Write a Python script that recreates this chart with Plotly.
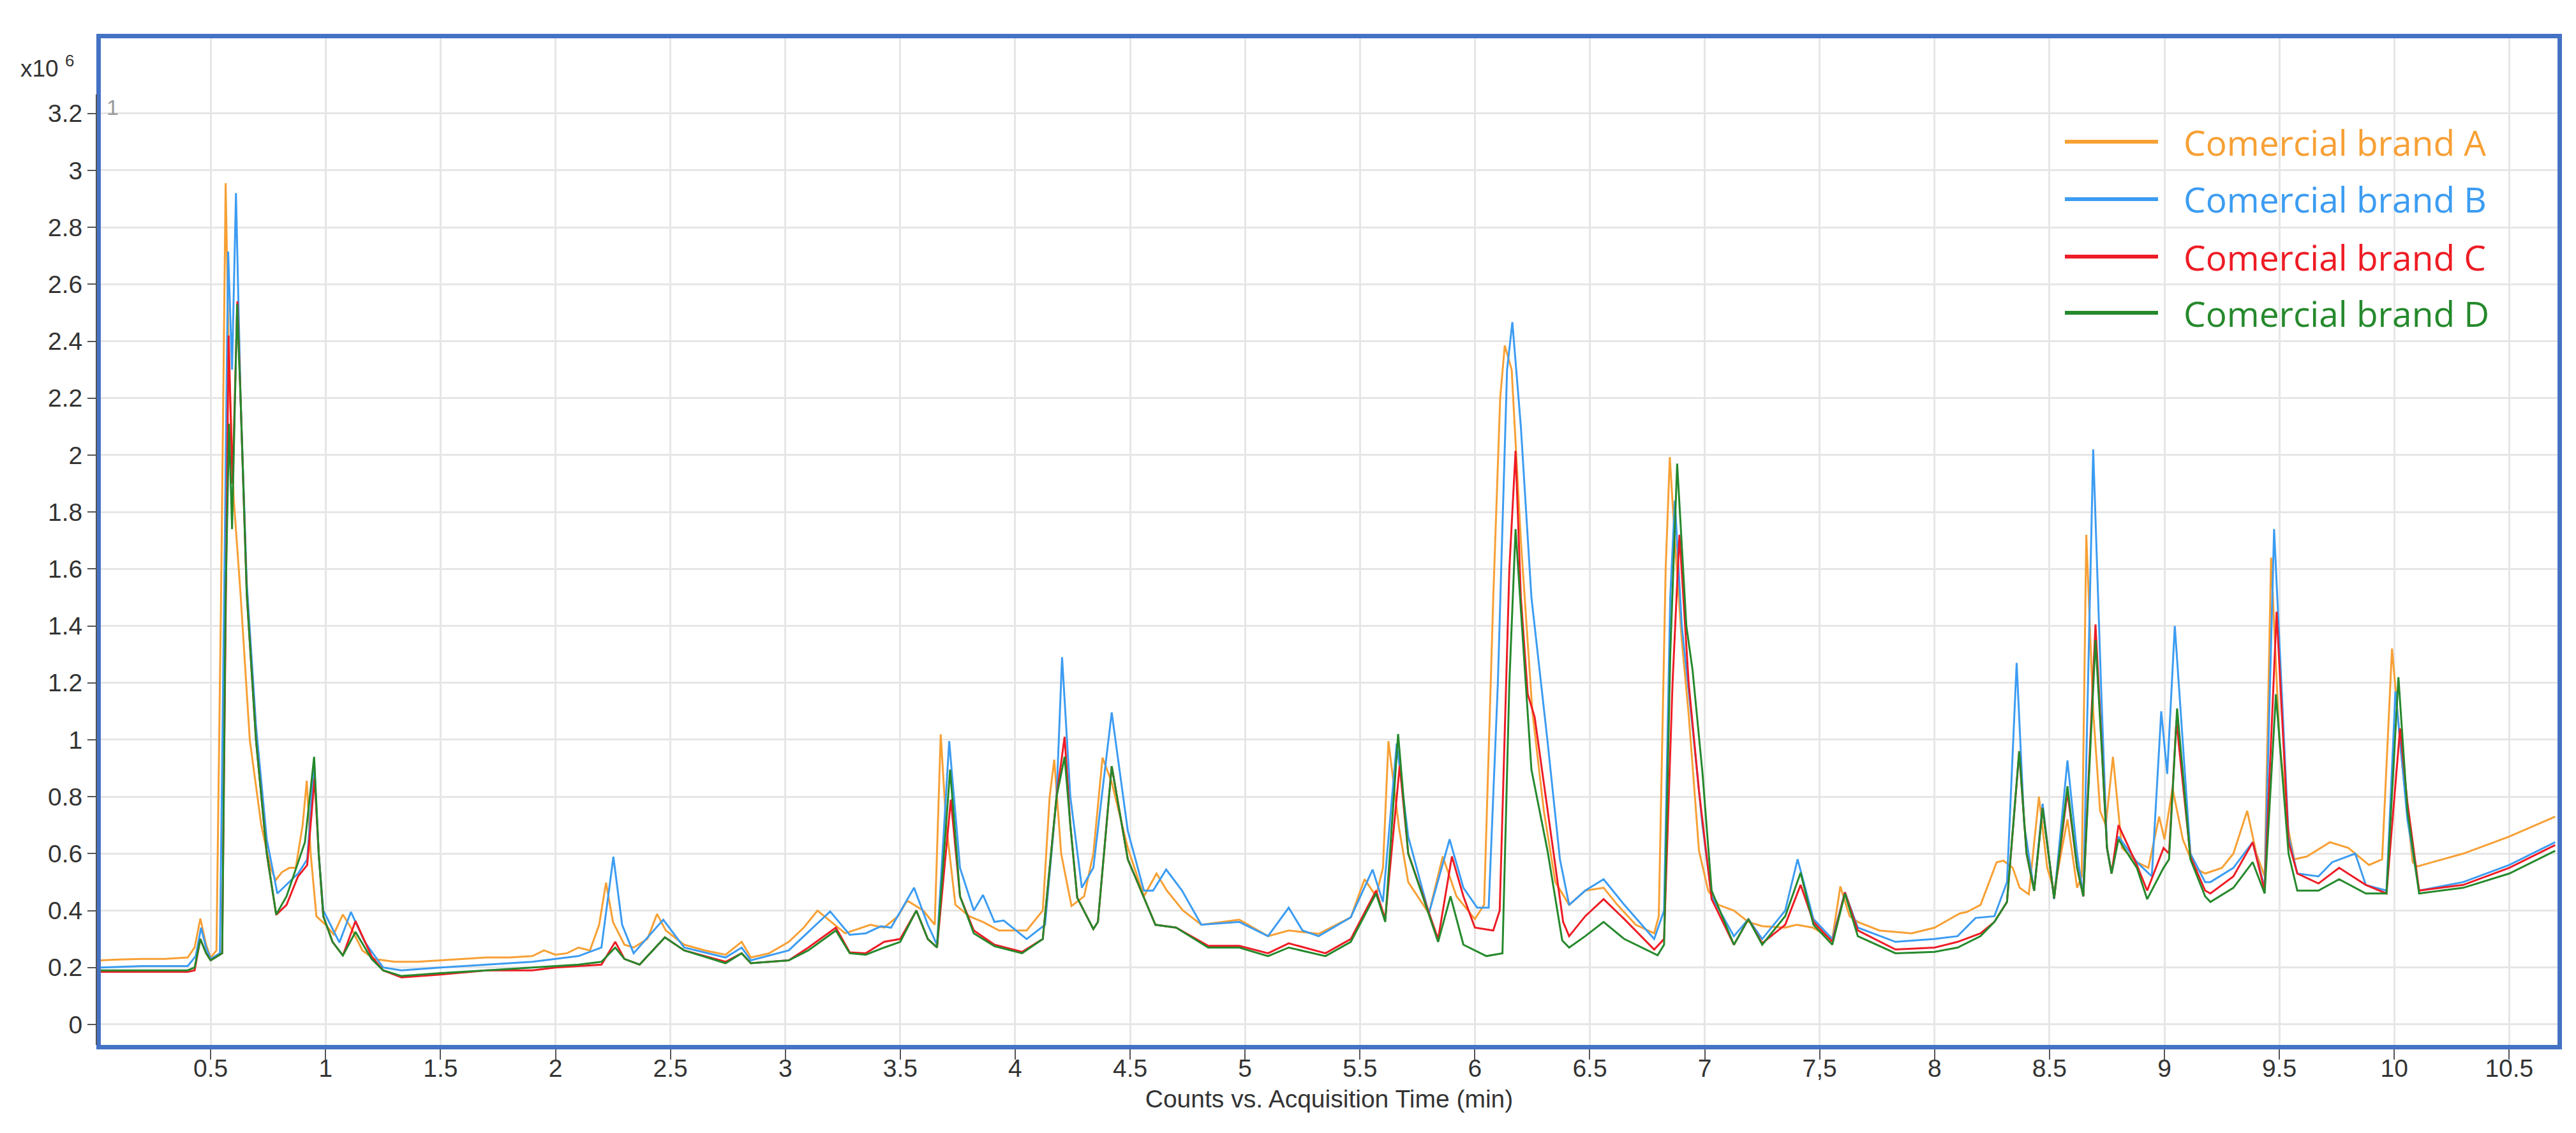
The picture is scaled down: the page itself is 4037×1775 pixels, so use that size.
import plotly.graph_objects as go

# ---------------- data (counts in units of 10^6) ----------------
time_A = [0.02, 0.10, 0.20, 0.30, 0.40, 0.43, 0.455, 0.48, 0.50, 0.525, 0.545, 0.565, 0.58, 0.60, 0.63, 0.67, 0.72, 0.76, 0.783, 0.81, 0.842, 0.87, 0.90, 0.918, 0.935, 0.96, 1.00, 1.035, 1.075, 1.11, 1.16, 1.21, 1.3, 1.4, 1.5, 1.6, 1.7, 1.8, 1.9, 1.95, 2.0, 2.05, 2.1, 2.15, 2.19, 2.22, 2.25, 2.3, 2.34, 2.4, 2.442, 2.48, 2.56, 2.65, 2.74, 2.81, 2.85, 2.93, 3.015, 3.08, 3.14, 3.2, 3.26, 3.37, 3.43, 3.49, 3.53, 3.6, 3.65, 3.676, 3.70, 3.74, 3.8, 3.86, 3.93, 4.05, 4.12, 4.15, 4.17, 4.2, 4.245, 4.3, 4.34, 4.38, 4.42, 4.49, 4.56, 4.615, 4.66, 4.73, 4.81, 4.975, 5.1, 5.19, 5.32, 5.46, 5.52, 5.57, 5.6, 5.624, 5.67, 5.71, 5.8, 5.86, 5.92, 6.0, 6.04, 6.08, 6.11, 6.13, 6.16, 6.2, 6.25, 6.3, 6.35, 6.41, 6.48, 6.56, 6.62, 6.7, 6.78, 6.8, 6.83, 6.848, 6.87, 6.9, 6.93, 6.975, 7.015, 7.06, 7.127, 7.19, 7.25, 7.35, 7.4, 7.47, 7.555, 7.59, 7.63, 7.666, 7.76, 7.9, 8.0, 8.11, 8.14, 8.2, 8.27, 8.3, 8.34, 8.37, 8.41, 8.454, 8.49, 8.52, 8.578, 8.62, 8.64, 8.66, 8.69, 8.72, 8.745, 8.776, 8.815, 8.88, 8.93, 8.977, 9.0, 9.035, 9.08, 9.13, 9.177, 9.25, 9.3, 9.36, 9.40, 9.436, 9.464, 9.5, 9.54, 9.565, 9.62, 9.72, 9.8, 9.89, 9.947, 9.99, 10.03, 10.08, 10.1, 10.3, 10.5, 10.7]
counts_A = [0.225, 0.228, 0.23, 0.23, 0.235, 0.27, 0.372, 0.28, 0.235, 0.26, 1.5, 2.955, 2.3, 1.85, 1.51, 1.0, 0.7, 0.55, 0.507, 0.535, 0.55, 0.55, 0.7, 0.856, 0.6, 0.38, 0.35, 0.316, 0.386, 0.34, 0.26, 0.23, 0.22, 0.22, 0.225, 0.23, 0.235, 0.235, 0.24, 0.26, 0.245, 0.25, 0.27, 0.26, 0.35, 0.498, 0.36, 0.28, 0.27, 0.3, 0.388, 0.33, 0.28, 0.26, 0.245, 0.29, 0.235, 0.25, 0.29, 0.34, 0.40, 0.36, 0.32, 0.35, 0.34, 0.38, 0.435, 0.40, 0.35, 1.019, 0.7, 0.42, 0.38, 0.36, 0.33, 0.33, 0.4, 0.8, 0.93, 0.6, 0.416, 0.45, 0.6, 0.937, 0.85, 0.62, 0.45, 0.53, 0.47, 0.4, 0.35, 0.368, 0.31, 0.33, 0.318, 0.376, 0.51, 0.45, 0.55, 0.995, 0.69, 0.5, 0.39, 0.59, 0.45, 0.37, 0.42, 1.5, 2.2, 2.385, 2.3, 1.7, 1.1, 0.75, 0.5, 0.42, 0.47, 0.48, 0.42, 0.35, 0.32, 0.38, 1.6, 1.993, 1.7, 1.35, 1.09, 0.61, 0.47, 0.42, 0.40, 0.36, 0.345, 0.34, 0.35, 0.34, 0.30, 0.485, 0.38, 0.36, 0.33, 0.32, 0.34, 0.39, 0.395, 0.42, 0.57, 0.575, 0.55, 0.48, 0.457, 0.80, 0.55, 0.47, 0.72, 0.48, 0.52, 1.72, 1.1, 0.75, 0.70, 0.94, 0.62, 0.57, 0.55, 0.73, 0.65, 0.83, 0.65, 0.55, 0.53, 0.55, 0.6, 0.75, 0.6, 0.52, 1.64, 1.0, 0.68, 0.58, 0.59, 0.64, 0.62, 0.56, 0.58, 1.32, 0.95, 0.57, 0.555, 0.6, 0.66, 0.73]

time_B = [0.02, 0.2, 0.4, 0.435, 0.458, 0.48, 0.50, 0.54, 0.56, 0.576, 0.593, 0.61, 0.63, 0.657, 0.697, 0.744, 0.79, 0.84, 0.88, 0.92, 0.95, 0.97, 0.99, 1.06, 1.11, 1.17, 1.25, 1.33, 1.5, 1.7, 1.9, 2.0, 2.1, 2.2, 2.252, 2.29, 2.34, 2.469, 2.56, 2.74, 2.81, 2.85, 3.015, 3.195, 3.28, 3.35, 3.416, 3.46, 3.56, 3.62, 3.66, 3.713, 3.76, 3.82, 3.86, 3.91, 3.95, 4.05, 4.13, 4.18, 4.204, 4.24, 4.29, 4.34, 4.42, 4.49, 4.56, 4.6, 4.657, 4.726, 4.81, 4.975, 5.1, 5.19, 5.25, 5.32, 5.46, 5.555, 5.6, 5.66, 5.71, 5.8, 5.89, 5.95, 6.01, 6.06, 6.1, 6.14, 6.163, 6.2, 6.246, 6.316, 6.37, 6.41, 6.48, 6.56, 6.65, 6.78, 6.823, 6.85, 6.87, 6.9, 6.95, 6.99, 7.03, 7.127, 7.19, 7.25, 7.35, 7.404, 7.473, 7.555, 7.61, 7.666, 7.83, 8.0, 8.1, 8.178, 8.26, 8.315, 8.357, 8.39, 8.433, 8.47, 8.52, 8.578, 8.62, 8.647, 8.69, 8.725, 8.75, 8.77, 8.8, 8.88, 8.945, 8.986, 9.012, 9.045, 9.113, 9.177, 9.2, 9.3, 9.384, 9.436, 9.477, 9.54, 9.578, 9.67, 9.73, 9.83, 9.876, 9.966, 10.005, 10.057, 10.108, 10.3, 10.5, 10.7]
counts_B = [0.2, 0.205, 0.205, 0.24, 0.34, 0.27, 0.23, 0.25, 1.6, 2.715, 2.3, 2.92, 2.2, 1.55, 1.05, 0.65, 0.46, 0.5, 0.53, 0.58, 0.92, 0.6, 0.4, 0.288, 0.395, 0.29, 0.2, 0.19, 0.2, 0.21, 0.22, 0.23, 0.24, 0.27, 0.589, 0.35, 0.25, 0.368, 0.27, 0.235, 0.27, 0.225, 0.26, 0.397, 0.315, 0.32, 0.345, 0.34, 0.48, 0.35, 0.28, 0.995, 0.55, 0.40, 0.455, 0.36, 0.365, 0.30, 0.35, 0.8, 1.29, 0.8, 0.48, 0.55, 1.096, 0.68, 0.47, 0.47, 0.544, 0.47, 0.35, 0.36, 0.31, 0.41, 0.33, 0.31, 0.376, 0.544, 0.43, 0.987, 0.66, 0.39, 0.65, 0.48, 0.41, 0.41, 1.2, 2.3, 2.467, 2.1, 1.5, 0.995, 0.58, 0.42, 0.47, 0.51, 0.42, 0.30, 0.40, 1.5, 1.84, 1.4, 1.02, 0.7, 0.45, 0.31, 0.37, 0.30, 0.40, 0.58, 0.37, 0.30, 0.464, 0.34, 0.29, 0.30, 0.31, 0.374, 0.38, 0.5, 1.27, 0.7, 0.47, 0.775, 0.44, 0.927, 0.6, 0.45, 2.02, 1.17, 0.62, 0.53, 0.66, 0.57, 0.52, 1.10, 0.88, 1.40, 0.6, 0.5, 0.5, 0.55, 0.64, 0.48, 1.74, 0.66, 0.53, 0.52, 0.57, 0.6, 0.49, 0.47, 1.17, 0.72, 0.47, 0.5, 0.56, 0.64]

time_C = [0.02, 0.2, 0.4, 0.43, 0.455, 0.48, 0.50, 0.55, 0.565, 0.578, 0.595, 0.616, 0.63, 0.657, 0.697, 0.744, 0.785, 0.83, 0.88, 0.92, 0.952, 0.97, 0.99, 1.03, 1.075, 1.13, 1.2, 1.25, 1.33, 1.5, 1.7, 1.9, 2.0, 2.1, 2.2, 2.26, 2.3, 2.366, 2.476, 2.56, 2.74, 2.81, 2.85, 3.015, 3.1, 3.22, 3.28, 3.35, 3.43, 3.5, 3.57, 3.62, 3.66, 3.72, 3.76, 3.82, 3.91, 4.03, 4.12, 4.18, 4.215, 4.24, 4.27, 4.34, 4.36, 4.42, 4.49, 4.61, 4.7, 4.84, 4.975, 5.1, 5.19, 5.35, 5.46, 5.57, 5.61, 5.673, 5.71, 5.84, 5.9, 5.95, 6.0, 6.08, 6.108, 6.15, 6.177, 6.2, 6.23, 6.26, 6.316, 6.384, 6.41, 6.48, 6.56, 6.65, 6.78, 6.823, 6.86, 6.89, 6.93, 6.975, 7.03, 7.127, 7.19, 7.25, 7.35, 7.417, 7.473, 7.555, 7.61, 7.666, 7.83, 8.0, 8.1, 8.2, 8.26, 8.315, 8.368, 8.40, 8.433, 8.47, 8.52, 8.578, 8.62, 8.647, 8.70, 8.725, 8.75, 8.77, 8.8, 8.88, 8.925, 8.996, 9.02, 9.052, 9.113, 9.177, 9.2, 9.3, 9.384, 9.436, 9.488, 9.54, 9.578, 9.67, 9.76, 9.876, 9.966, 10.025, 10.057, 10.108, 10.3, 10.5, 10.7]
counts_C = [0.185, 0.185, 0.185, 0.19, 0.30, 0.25, 0.225, 0.25, 1.5, 2.42, 1.9, 2.54, 2.2, 1.51, 1.0, 0.6, 0.385, 0.42, 0.52, 0.56, 0.865, 0.6, 0.38, 0.29, 0.242, 0.363, 0.24, 0.19, 0.165, 0.175, 0.19, 0.19, 0.2, 0.205, 0.21, 0.29, 0.23, 0.21, 0.306, 0.26, 0.22, 0.25, 0.215, 0.225, 0.27, 0.34, 0.253, 0.25, 0.29, 0.3, 0.40, 0.3, 0.27, 0.79, 0.45, 0.33, 0.28, 0.255, 0.3, 0.8, 1.01, 0.7, 0.445, 0.335, 0.36, 0.907, 0.58, 0.35, 0.34, 0.276, 0.276, 0.25, 0.285, 0.25, 0.30, 0.47, 0.37, 0.91, 0.6, 0.30, 0.59, 0.45, 0.34, 0.33, 0.4, 1.6, 2.015, 1.5, 1.16, 1.08, 0.75, 0.36, 0.31, 0.38, 0.44, 0.37, 0.263, 0.3, 1.2, 1.72, 1.2, 0.82, 0.44, 0.28, 0.37, 0.285, 0.35, 0.49, 0.36, 0.29, 0.464, 0.33, 0.263, 0.27, 0.29, 0.32, 0.36, 0.43, 0.955, 0.6, 0.47, 0.76, 0.443, 0.817, 0.55, 0.45, 1.405, 1.0, 0.62, 0.53, 0.70, 0.56, 0.47, 0.62, 0.6, 1.065, 0.59, 0.47, 0.46, 0.52, 0.64, 0.47, 1.45, 0.64, 0.53, 0.495, 0.55, 0.49, 0.46, 1.04, 0.78, 0.47, 0.49, 0.55, 0.63]

time_D = [0.02, 0.2, 0.4, 0.43, 0.455, 0.48, 0.50, 0.55, 0.565, 0.58, 0.593, 0.615, 0.63, 0.657, 0.697, 0.744, 0.785, 0.83, 0.91, 0.95, 0.97, 0.99, 1.03, 1.075, 1.13, 1.2, 1.25, 1.33, 1.5, 1.7, 1.9, 2.0, 2.1, 2.2, 2.26, 2.3, 2.366, 2.476, 2.56, 2.74, 2.81, 2.85, 3.015, 3.1, 3.22, 3.28, 3.35, 3.43, 3.5, 3.57, 3.62, 3.66, 3.717, 3.76, 3.82, 3.91, 4.03, 4.12, 4.18, 4.215, 4.24, 4.27, 4.34, 4.36, 4.42, 4.49, 4.61, 4.7, 4.84, 4.975, 5.1, 5.19, 5.35, 5.46, 5.57, 5.61, 5.666, 5.71, 5.84, 5.894, 5.95, 6.05, 6.12, 6.15, 6.177, 6.246, 6.316, 6.38, 6.41, 6.48, 6.56, 6.65, 6.795, 6.823, 6.85, 6.88, 6.92, 6.947, 6.99, 7.03, 7.127, 7.19, 7.25, 7.35, 7.417, 7.473, 7.555, 7.61, 7.666, 7.83, 8.0, 8.1, 8.2, 8.26, 8.315, 8.368, 8.40, 8.433, 8.47, 8.52, 8.578, 8.62, 8.647, 8.70, 8.725, 8.75, 8.77, 8.8, 8.88, 8.925, 8.996, 9.02, 9.055, 9.113, 9.177, 9.2, 9.3, 9.384, 9.436, 9.485, 9.54, 9.578, 9.67, 9.76, 9.876, 9.966, 10.018, 10.057, 10.108, 10.3, 10.5, 10.7]
counts_D = [0.19, 0.19, 0.19, 0.2, 0.30, 0.25, 0.225, 0.25, 1.5, 2.11, 1.74, 2.53, 2.2, 1.51, 1.0, 0.6, 0.386, 0.45, 0.64, 0.94, 0.6, 0.38, 0.29, 0.242, 0.325, 0.23, 0.19, 0.17, 0.18, 0.19, 0.2, 0.205, 0.21, 0.22, 0.27, 0.23, 0.21, 0.306, 0.26, 0.215, 0.25, 0.215, 0.225, 0.26, 0.33, 0.25, 0.245, 0.27, 0.29, 0.40, 0.3, 0.27, 0.895, 0.45, 0.32, 0.275, 0.25, 0.3, 0.8, 0.94, 0.7, 0.445, 0.335, 0.36, 0.907, 0.58, 0.35, 0.34, 0.27, 0.27, 0.24, 0.27, 0.24, 0.29, 0.46, 0.36, 1.02, 0.6, 0.29, 0.45, 0.28, 0.24, 0.25, 1.2, 1.74, 0.895, 0.61, 0.295, 0.27, 0.31, 0.36, 0.3, 0.243, 0.28, 1.3, 1.97, 1.4, 1.245, 0.885, 0.47, 0.28, 0.37, 0.28, 0.38, 0.533, 0.35, 0.28, 0.46, 0.31, 0.25, 0.255, 0.27, 0.31, 0.36, 0.43, 0.96, 0.6, 0.47, 0.76, 0.443, 0.837, 0.55, 0.45, 1.35, 1.0, 0.62, 0.53, 0.65, 0.55, 0.44, 0.55, 0.58, 1.11, 0.58, 0.45, 0.43, 0.48, 0.57, 0.46, 1.16, 0.6, 0.47, 0.47, 0.51, 0.46, 0.46, 1.22, 0.75, 0.46, 0.48, 0.53, 0.61]

series_names = ["Comercial brand A", "Comercial brand B", "Comercial brand C", "Comercial brand D"]
series_colors = ["#F7A035", "#3C9CF2", "#EE1C25", "#25892C"]

x_tickvals = [0.5, 1, 1.5, 2, 2.5, 3, 3.5, 4, 4.5, 5, 5.5, 6, 6.5, 7, 7.5, 8, 8.5, 9, 9.5, 10, 10.5]
x_ticktext = ["0.5", "1", "1.5", "2", "2.5", "3", "3.5", "4", "4.5", "5", "5.5", "6", "6.5", "7", "7,5", "8", "8.5", "9", "9.5", "10", "10.5"]
y_tickvals = [0, 0.2, 0.4, 0.6, 0.8, 1.0, 1.2, 1.4, 1.6, 1.8, 2.0, 2.2, 2.4, 2.6, 2.8, 3.0, 3.2]
y_ticktext = ["0", "0.2", "0.4", "0.6", "0.8", "1", "1.2", "1.4", "1.6", "1.8", "2", "2.2", "2.4", "2.6", "2.8", "3", "3.2"]

# ---------------- layout geometry (pixels) ----------------
W, H = 4037, 1775
L, R, T, B = 150, 37, 52, 146
PW, PH = W - L - R, H - T - B


def px(xp):
    return (xp - L) / PW


def py(yp):
    return (H - B - yp) / PH


FRAME = "#4472C4"
TICKFONT = dict(family="Liberation Sans, Arial, sans-serif", size=39, color="#333333")

fig = go.Figure()
all_times = [time_A, time_B, time_C, time_D]
all_counts = [counts_A, counts_B, counts_C, counts_D]
for t, c, name, col in zip(all_times, all_counts, series_names, series_colors):
    fig.add_trace(go.Scatter(x=t, y=c, mode="lines", name=name,
                             line=dict(color=col, width=3), showlegend=False))

shapes = []
annotations = []
# blank the strip above the top tick (grid lines stop near 3.2)
shapes.append(dict(type="rect", xref="paper", yref="paper", x0=0, x1=1,
                   y0=py(140), y1=1, fillcolor="white", line=dict(width=0), layer="between"))
# dark y axis line just left of frame
shapes.append(dict(type="line", xref="paper", yref="paper", x0=px(143), x1=px(143),
                   y0=py(1629), y1=py(140), line=dict(color="#555555", width=2), layer="above"))

# custom legend
leg_y = [214, 304, 394, 482]
for name, col, yy in zip(series_names, series_colors, leg_y):
    shapes.append(dict(type="line", xref="paper", yref="paper", x0=px(3228), x1=px(3374),
                       y0=py(yy), y1=py(yy), line=dict(color=col, width=6), layer="above"))
    annotations.append(dict(xref="paper", yref="paper", x=px(3412), y=py(yy), text=name,
                            showarrow=False, xanchor="left", yanchor="middle",
                            font=dict(family="Open Sans, Noto Sans, sans-serif", size=55, color=col)))

annotations.append(dict(xref="paper", yref="paper", x=px(22), y=py(97), text="x10 <sup>6</sup>",
                        showarrow=False, xanchor="left", yanchor="middle",
                        font=dict(family="Liberation Sans, Arial, sans-serif", size=37, color="#333333")))
annotations.append(dict(xref="paper", yref="paper", x=px(168), y=py(160), text="1",
                        showarrow=False, xanchor="center", yanchor="middle",
                        font=dict(family="Liberation Sans, Arial, sans-serif", size=34, color="#9A9A9A")))

fig.update_layout(
    width=W, height=H,
    margin=dict(l=L, r=R, t=T, b=B),
    paper_bgcolor="white", plot_bgcolor="white",
    shapes=shapes, annotations=annotations,
    xaxis=dict(range=[0.022, 10.71], tickvals=x_tickvals, ticktext=x_ticktext,
               tickfont=TICKFONT, ticks="outside", ticklen=16, tickwidth=2, tickcolor="#555555",
               ticklabelstandoff=-20,
               showline=True, mirror=True, linecolor=FRAME, linewidth=7,
               showgrid=True, gridcolor="#E6E6E6", gridwidth=3, zeroline=False,
               title=dict(text="Counts vs. Acquisition Time (min)", standoff=16,
                          font=dict(family="Liberation Sans, Arial, sans-serif", size=39, color="#333333"))),
    yaxis=dict(range=[-0.072, 3.464], tickvals=y_tickvals, ticktext=y_ticktext,
               tickfont=TICKFONT, ticks="outside", ticklen=14, tickwidth=2, tickcolor="#555555",
               showline=True, mirror=True, linecolor=FRAME, linewidth=7,
               showgrid=True, gridcolor="#E6E6E6", gridwidth=3, zeroline=False),
)

fig.write_html("out.html")
